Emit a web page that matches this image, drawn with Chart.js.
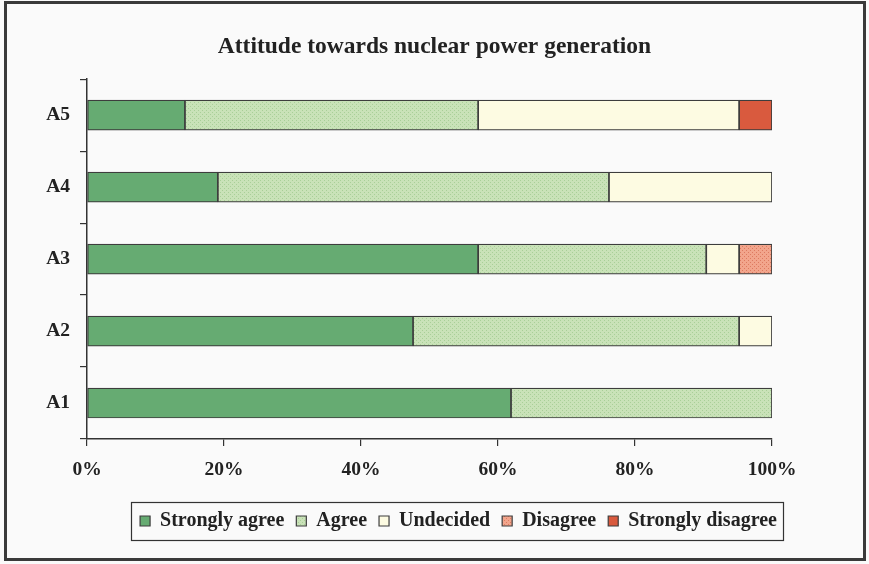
<!DOCTYPE html>
<html>
<head>
<meta charset="utf-8">
<script src="https://cdn.jsdelivr.net/npm/chart.js@4/dist/chart.umd.min.js"></script>
<style>
  html, body { margin: 0; padding: 0; background: #fafafa; }
  canvas { display: block; }
</style>
</head>
<body>
<canvas id="chart" width="869" height="564"></canvas>
<script>
// Survey answers, percent of respondents per question
const categories = ['A1', 'A2', 'A3', 'A4', 'A5'];
const seriesNames = ['Strongly agree', 'Agree', 'Undecided', 'Disagree', 'Strongly disagree'];
const stronglyAgree    = [61.9, 47.6, 57.1, 19.1, 14.3];
const agree            = [38.1, 47.6, 33.3, 57.1, 42.8];
const undecided        = [null, 4.8, 4.8, 23.8, 38.1];
const disagree         = [null, null, 4.8, null, null];
const stronglyDisagree = [null, null, null, null, 4.8];
const xTickValues = [0, 20, 40, 60, 80, 100];

const FONT = "'Liberation Serif', 'Times New Roman', serif";

// small dotted fill used for the textured series
function dotPattern(base, dot) {
  const c = document.createElement('canvas');
  c.width = 4; c.height = 4;
  const g = c.getContext('2d');
  g.fillStyle = base; g.fillRect(0, 0, 4, 4);
  g.fillStyle = dot;
  g.fillRect(0, 0, 1, 1); g.fillRect(2, 2, 1, 1);
  return g.createPattern(c, 'repeat');
}

const fills = [
  '#66ab72',
  dotPattern('#c9e2b8', '#a9cf98'),
  '#fdfbe2',
  dotPattern('#f2a58c', '#dd7a60'),
  '#d95a3e'
];
const seriesData = [stronglyAgree, agree, undecided, disagree, stronglyDisagree];

const LEGEND_SHIFT = 24;

const frame = {
  id: 'frame',
  afterLayout(chart) {
    // legend box sits a little right of centre
    const lg = chart.legend;
    if (!lg) return;
    lg.left += LEGEND_SHIFT;
    lg.right += LEGEND_SHIFT;
    (lg.legendHitBoxes || []).forEach(b => { b.left += LEGEND_SHIFT; });
  },
  beforeDraw(chart) {
    const ctx = chart.ctx;
    ctx.save();
    ctx.fillStyle = '#fafafa';
    ctx.fillRect(0, 0, chart.width, chart.height);
    ctx.restore();
  },
  afterDraw(chart) {
    const ctx = chart.ctx;
    ctx.save();
    // legend outline
    const lg = chart.legend;
    if (lg && lg.legendHitBoxes && lg.legendHitBoxes.length) {
      const boxes = lg.legendHitBoxes;
      const left = Math.min(...boxes.map(b => b.left)) - 9;
      const right = Math.max(...boxes.map(b => b.left + b.width)) + 6;
      const cy = boxes[0].top + boxes[0].height / 2;
      ctx.strokeStyle = '#333';
      ctx.lineWidth = 1.2;
      ctx.strokeRect(Math.round(left) + 0.5, Math.round(cy - 19) + 0.5, Math.round(right - left), 38);
    }
    // outer frame
    ctx.strokeStyle = '#3a3a3a';
    ctx.lineWidth = 3;
    ctx.strokeRect(5.5, 2.5, 859, 557);
    ctx.restore();
  }
};

new Chart(document.getElementById('chart'), {
  type: 'bar',
  data: {
    labels: categories,
    datasets: seriesNames.map((name, i) => ({
      label: name,
      data: seriesData[i],
      backgroundColor: fills[i],
      borderColor: '#3d3d3d',
      borderWidth: 1.2,
      borderSkipped: false,
      barThickness: 30
    }))
  },
  options: {
    indexAxis: 'y',
    responsive: false,
    animation: false,
    devicePixelRatio: 1,
    layout: { padding: { left: 0, right: 0, top: 0, bottom: 23 } },
    scales: {
      x: {
        stacked: true,
        min: 0,
        max: 100,
        afterBuildTicks(scale) { scale.ticks = xTickValues.map(v => ({ value: v })); },
        afterFit(scale) { scale.height = 60; },
        ticks: {
          padding: 12,
          color: '#222',
          font: { family: FONT, size: 19.5, weight: 'bold' },
          callback: v => v + '%'
        },
        grid: { drawOnChartArea: false, drawTicks: true, tickLength: 7, color: '#333', lineWidth: 1.2 },
        border: { color: '#333', width: 1.5 }
      },
      y: {
        stacked: true,
        reverse: true,
        afterFit(scale) { scale.width = 87; },
        ticks: {
          padding: 10,
          color: '#222',
          font: { family: FONT, size: 19.5, weight: 'bold' }
        },
        grid: { drawOnChartArea: false, drawTicks: true, tickLength: 7, color: '#333', lineWidth: 1.2, offset: true },
        border: { color: '#333', width: 1.5 }
      },
      // empty margin on the right of the plot
      gutter: {
        type: 'linear',
        axis: 'y',
        position: 'right',
        display: true,
        afterFit(scale) { scale.width = 97; },
        ticks: { display: false },
        grid: { display: false, drawTicks: false },
        border: { display: false }
      }
    },
    plugins: {
      title: {
        display: true,
        text: 'Attitude towards nuclear power generation',
        color: '#222',
        font: { family: FONT, size: 23.5, weight: 'bold' },
        padding: { top: 33, bottom: 18 }
      },
      legend: {
        position: 'bottom',
        labels: {
          color: '#222',
          boxWidth: 10,
          boxHeight: 10,
          padding: 12,
          font: { family: FONT, size: 20, weight: 'bold' }
        }
      },
      tooltip: { enabled: false }
    }
  },
  plugins: [frame]
});
</script>
</body>
</html>
